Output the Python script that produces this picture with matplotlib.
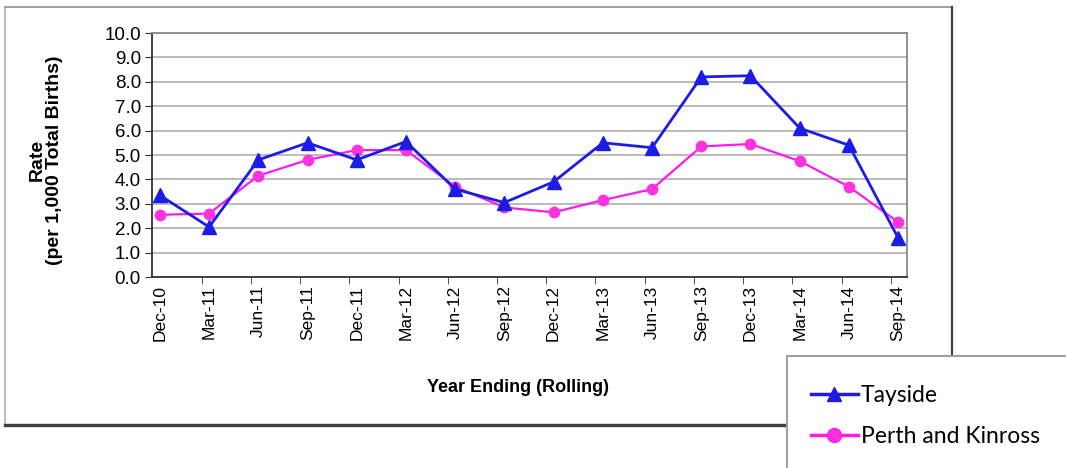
import numpy as np
import matplotlib
matplotlib.use('Agg')
import matplotlib.pyplot as plt
from matplotlib.lines import Line2D
from matplotlib.patches import Rectangle

periodos = ['Dec-10','Mar-11','Jun-11','Sep-11','Dec-11','Mar-12','Jun-12','Sep-12',
            'Dec-12','Mar-13','Jun-13','Sep-13','Dec-13','Mar-14','Jun-14','Sep-14']
tayside = [3.35, 2.05, 4.8, 5.5, 4.8, 5.55, 3.6, 3.05, 3.9, 5.5, 5.3, 8.2, 8.25, 6.1, 5.4, 1.6]
perth = [2.55, 2.6, 4.15, 4.8, 5.2, 5.2, 3.7, 2.85, 2.65, 3.15, 3.6, 5.35, 5.45, 4.75, 3.7, 2.25]

plt.rcParams['font.family'] = ['Liberation Sans', 'DejaVu Sans']

azul = '#1c1ce6'
rosa = '#ff1aee'

fig = plt.figure(figsize=(10.66,4.68), dpi=100)
W, H = 1066., 468.

# marco exterior del grafico
fig.add_artist(Line2D([5/W,5/W],[1-424/H,1-7/H],color='#b0b0b0',lw=1.2))
fig.add_artist(Line2D([5/W,952/W],[1-7/H,1-7/H],color='#909090',lw=1.2))
fig.add_artist(Line2D([952/W,952/W],[1-424/H,1-7/H],color='#404040',lw=1.6))
fig.add_artist(Line2D([5/W,952/W],[1-425/H,1-425/H],color='#404040',lw=2.4))

ax = fig.add_axes([152/W, 1-277/H, (907-152)/W, (277-33)/H])
x = np.arange(len(periodos))
ax.plot(x, tayside, color=azul, lw=2, marker='^', markersize=10,
        markerfacecolor=azul, markeredgecolor=azul, zorder=4)
ax.plot(x, perth, color=rosa, lw=1.6, marker='o', markersize=7.5,
        markerfacecolor='#ff33dd', markeredgecolor='#ff33dd', zorder=3)

ax.set_xlim(-0.16, 15.18)
ax.set_ylim(0, 10)
ax.set_yticks(np.arange(0, 10.5, 1.0))
ax.set_yticklabels(['%.1f' % v for v in np.arange(0, 10.5, 1.0)], fontsize=13.5)
ax.set_xticks(x)
ax.set_xticklabels(periodos, rotation=90, fontsize=12.5)
ax.set_xticks(x[1:]-0.15, minor=True)
ax.tick_params(axis='x', which='major', length=0, pad=6)
ax.tick_params(axis='x', which='minor', length=5, direction='out', color='#333333')
ax.tick_params(axis='y', length=5, direction='out', color='#333333', pad=3)
ax.yaxis.grid(True, color='#a8a8a8', lw=1.1)
ax.set_axisbelow(True)
ax.spines['top'].set_color('#888888')
ax.spines['right'].set_color('#888888')
ax.spines['left'].set_color('#333333')
ax.spines['bottom'].set_color('#333333')
for s in ax.spines.values():
    s.set_linewidth(1.3)

ax.set_ylabel('Rate\n(per 1,000 Total Births)', fontsize=14, fontweight='bold', linespacing=1.05)
ax.yaxis.set_label_coords(-0.118, 0.48)
fig.text(518/W, 1-387/H, 'Year Ending (Rolling)', fontsize=13, fontweight='bold', ha='center', va='center')

# leyenda (sale por el borde de la figura)
fig.add_artist(Rectangle((787/W, 1-480/H), 300/W, 124/H, facecolor='white',
                         edgecolor='#a0a0a0', lw=1.5, clip_on=False, zorder=5))
h1 = Line2D([], [], color=azul, lw=2.5, marker='^', markersize=10)
h2 = Line2D([], [], color=rosa, lw=2.5, marker='o', markersize=10, markerfacecolor='#ff33dd')
leg = fig.legend([h1, h2], ['Tayside', 'Perth and Kinross'], loc='upper left',
                 bbox_to_anchor=(790/W, 1-364/H), frameon=False, handlelength=2.05,
                 handletextpad=0.15, labelspacing=0.9, prop={'family':'Lato','size':16.5})
leg.set_zorder(6)

plt.savefig('out.png', dpi=100)
